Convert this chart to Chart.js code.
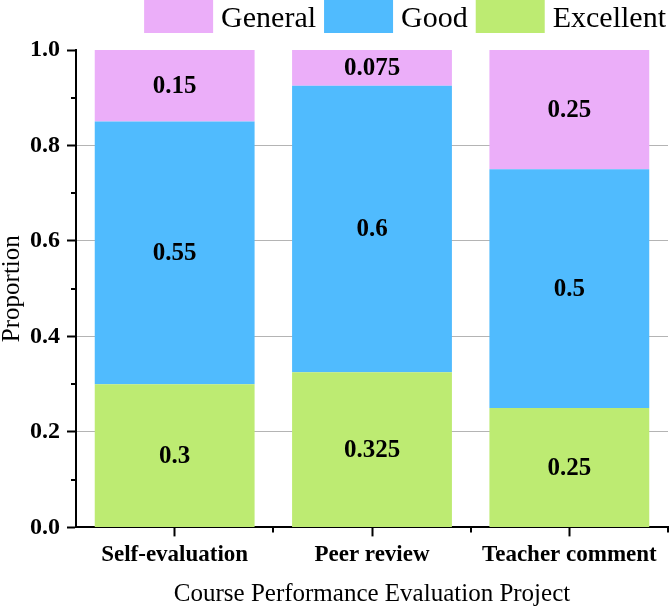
<!DOCTYPE html>
<html>
<head>
<meta charset="utf-8">
<script src="https://cdn.jsdelivr.net/npm/chart.js@4.4.1/dist/chart.umd.min.js"></script>
<style>
  html, body { margin: 0; padding: 0; background: #fff; }
</style>
</head>
<body>
<canvas id="chart" width="669" height="607"></canvas>
<script>
// chart data
var categories = ['Self-evaluation', 'Peer review', 'Teacher comment'];
var excellent = [0.3, 0.325, 0.25];
var good = [0.55, 0.6, 0.5];
var general = [0.15, 0.075, 0.25];
var yTicks = [0.0, 0.2, 0.4, 0.6, 0.8, 1.0];
var yMinorTicks = [0.1, 0.3, 0.5, 0.7, 0.9];

var serif = "'Liberation Serif', 'Times New Roman', serif";

// value labels in the middle of each segment
var segmentLabels = {
  id: 'segmentLabels',
  afterDatasetsDraw: function(chart) {
    var ctx = chart.ctx;
    ctx.save();
    ctx.font = 'bold 25px ' + serif;
    ctx.fillStyle = '#000';
    ctx.textAlign = 'center';
    ctx.textBaseline = 'middle';
    chart.data.datasets.forEach(function(ds, i) {
      var meta = chart.getDatasetMeta(i);
      meta.data.forEach(function(bar, j) {
        var p = bar.getProps(['x', 'y', 'base'], true);
        ctx.fillText(String(ds.data[j]), p.x, (p.y + p.base) / 2 + 1);
      });
    });
    ctx.restore();
  }
};

// minor tick marks on both axes
var minorTicks = {
  id: 'minorTicks',
  afterDraw: function(chart) {
    var ctx = chart.ctx;
    var xs = chart.scales.x, ys = chart.scales.y;
    ctx.save();
    ctx.strokeStyle = '#000';
    ctx.lineWidth = 2;
    ctx.beginPath();
    yMinorTicks.forEach(function(v) {
      var py = Math.round(ys.getPixelForValue(v));
      ctx.moveTo(xs.left - 5, py);
      ctx.lineTo(xs.left, py);
    });
    var half = (xs.getPixelForValue(1) - xs.getPixelForValue(0)) / 2;
    for (var i = 0; i < categories.length; i++) {
      var px = Math.round(xs.getPixelForValue(i) + half);
      ctx.moveTo(px, ys.bottom);
      ctx.lineTo(px, ys.bottom + 5);
    }
    ctx.stroke();
    ctx.restore();
  }
};

// legend row at the top right, stacked order reversed (top series first)
var topLegend = {
  id: 'topLegend',
  afterDraw: function(chart) {
    var ctx = chart.ctx;
    var boxW = 69, boxH = 33, gap = 8, right = 665;
    var items = chart.data.datasets.slice().reverse();
    ctx.save();
    ctx.font = '30px ' + serif;
    ctx.textBaseline = 'alphabetic';
    ctx.textAlign = 'left';
    var total = 0;
    items.forEach(function(ds, i) {
      total += boxW + gap + ctx.measureText(ds.label).width + (i ? gap : 0);
    });
    var x = right - total + 1;
    items.forEach(function(ds) {
      ctx.fillStyle = ds.backgroundColor;
      ctx.fillRect(x, 0, boxW, boxH);
      x += boxW + gap;
      ctx.fillStyle = '#000';
      ctx.fillText(ds.label, x, 27);
      x += ctx.measureText(ds.label).width + gap;
    });
    ctx.restore();
  }
};

var ctx = document.getElementById('chart').getContext('2d');
new Chart(ctx, {
  type: 'bar',
  data: {
    labels: categories,
    datasets: [
      { label: 'Excellent', data: excellent, backgroundColor: '#BDEB72' },
      { label: 'Good', data: good, backgroundColor: '#50BBFE' },
      { label: 'General', data: general, backgroundColor: '#EBAEF9' }
    ]
  },
  options: {
    responsive: false,
    animation: false,
    devicePixelRatio: 1,
    layout: { padding: { left: 0, right: 1, top: 50, bottom: 0 } },
    datasets: { bar: { barPercentage: 0.81, categoryPercentage: 1 } },
    plugins: {
      tooltip: { enabled: false },
      legend: { display: false }
    },
    scales: {
      x: {
        stacked: true,
        offset: true,
        grid: {
          offset: false,
          drawOnChartArea: false,
          drawTicks: true,
          tickLength: 9,
          tickColor: '#000',
          tickWidth: 2
        },
        border: { display: true, color: '#000', width: 2 },
        ticks: {
          color: '#000',
          padding: 5,
          maxRotation: 0,
          font: { family: serif, size: 23, weight: 'bold' }
        },
        title: {
          display: true,
          text: 'Course Performance Evaluation Project',
          color: '#000',
          padding: { top: 8, bottom: 0 },
          font: { family: serif, size: 25, lineHeight: 1.0 }
        }
      },
      y: {
        stacked: true,
        min: 0,
        max: 1,
        afterFit: function(scale) { scale.width = 76; },
        afterBuildTicks: function(scale) {
          scale.ticks = yTicks.map(function(v) { return { value: v }; });
        },
        grid: {
          drawTicks: true,
          tickLength: 9,
          tickColor: '#000',
          tickWidth: 2,
          lineWidth: 1,
          color: function(c) {
            var v = c.tick ? c.tick.value : 0;
            return (v <= 0 || v >= 1) ? 'rgba(0,0,0,0)' : '#b4b4b4';
          }
        },
        border: { display: true, color: '#000', width: 2 },
        ticks: {
          color: '#000',
          padding: 7,
          font: { family: serif, size: 24, weight: 'bold' },
          callback: function(v) { return Number(v).toFixed(1); }
        },
        title: {
          display: true,
          text: 'Proportion',
          color: '#000',
          padding: { top: 0, bottom: 0 },
          font: { family: serif, size: 25, lineHeight: 1.0 }
        }
      }
    }
  },
  plugins: [segmentLabels, minorTicks, topLegend]
});
</script>
</body>
</html>
